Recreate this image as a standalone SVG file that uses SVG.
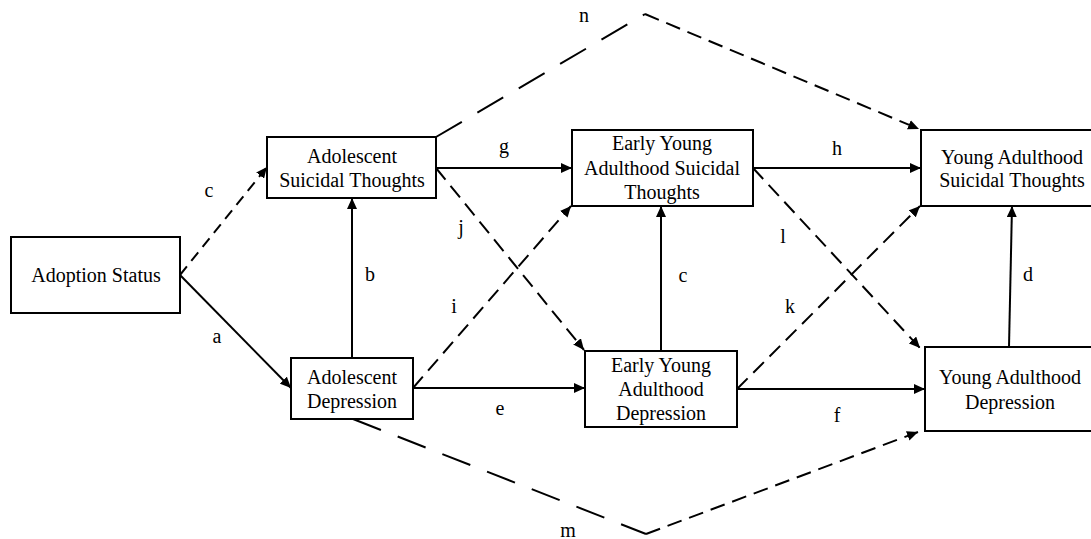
<svg xmlns="http://www.w3.org/2000/svg" width="1091" height="539" viewBox="0 0 1091 539">
<style>
.box{fill:#fff;stroke:#000;stroke-width:2}
text{font-size:20px;fill:#000;text-anchor:middle}
.s{fill:none;stroke:#000;stroke-width:2}
.d1{fill:none;stroke:#000;stroke-width:2;stroke-dasharray:11 7}
.d2{fill:none;stroke:#000;stroke-width:2;stroke-dasharray:15 8}
.d3{fill:none;stroke:#000;stroke-width:2;stroke-dasharray:30 18}
</style>
<defs>
<marker id="ah" viewBox="0 0 11 10" refX="11" refY="5" markerWidth="11" markerHeight="10" markerUnits="userSpaceOnUse" orient="auto">
<path d="M0,0 L11,5 L0,10 z" fill="#000"/>
</marker>
</defs>
<rect width="1091" height="539" fill="#fff"/>
<g font-family="Liberation Serif, DejaVu Serif, serif">
<g id="connectors">
<line class="d1" x1="180" y1="275" x2="267" y2="167" marker-end="url(#ah)"/>
<line class="s" x1="180" y1="275" x2="291" y2="388" marker-end="url(#ah)"/>
<line class="s" x1="352" y1="358" x2="352" y2="198" marker-end="url(#ah)"/>
<line class="s" x1="436" y1="168" x2="572" y2="168" marker-end="url(#ah)"/>
<line class="d2" x1="436" y1="168" x2="584" y2="350" marker-end="url(#ah)"/>
<line class="d2" x1="413" y1="388" x2="571" y2="206" marker-end="url(#ah)"/>
<line class="s" x1="413" y1="388" x2="585" y2="388" marker-end="url(#ah)"/>
<line class="s" x1="661" y1="351" x2="661" y2="206" marker-end="url(#ah)"/>
<line class="s" x1="753" y1="168" x2="921" y2="168" marker-end="url(#ah)"/>
<line class="d2" x1="753" y1="168" x2="920" y2="348" marker-end="url(#ah)"/>
<line class="d2" x1="737" y1="389" x2="920" y2="206" marker-end="url(#ah)"/>
<line class="s" x1="737" y1="389" x2="925" y2="389" marker-end="url(#ah)"/>
<line class="s" x1="1009" y1="347" x2="1012" y2="206" marker-end="url(#ah)"/>
<line class="d3" x1="436" y1="137" x2="645" y2="14"/>
<line class="d2" x1="645" y1="14" x2="919" y2="129" marker-end="url(#ah)"/>
<line class="d3" x1="353" y1="419" x2="646" y2="534"/>
<line class="d2" x1="646" y1="534" x2="918" y2="432" marker-end="url(#ah)"/>
<text x="209" y="197">c</text>
<text x="217" y="343">a</text>
<text x="370" y="281">b</text>
<text x="504" y="153">g</text>
<text x="461" y="234">j</text>
<text x="454" y="313">i</text>
<text x="500" y="415">e</text>
<text x="683" y="282">c</text>
<text x="837" y="155">h</text>
<text x="783" y="243">l</text>
<text x="790" y="313">k</text>
<text x="837" y="422">f</text>
<text x="1028" y="281">d</text>
<text x="584" y="22">n</text>
<text x="568" y="537">m</text>
</g>
<g id="adoption">
<rect class="box" x="11" y="237" width="169" height="76"/>
<text x="96" y="282">Adoption Status</text>
</g>
<g id="adol-st">
<rect class="box" x="267" y="137" width="169" height="61"/>
<text x="352" y="163">Adolescent</text>
<text x="352" y="187">Suicidal Thoughts</text>
</g>
<g id="adol-dep">
<rect class="box" x="291" y="358" width="122" height="61"/>
<text x="352" y="384">Adolescent</text>
<text x="352" y="408">Depression</text>
</g>
<g id="eya-st">
<rect class="box" x="572" y="130" width="181" height="76"/>
<text x="662" y="150">Early Young</text>
<text x="662" y="175">Adulthood Suicidal</text>
<text x="662" y="199">Thoughts</text>
</g>
<g id="eya-dep">
<rect class="box" x="585" y="351" width="152" height="76"/>
<text x="661" y="372">Early Young</text>
<text x="661" y="396">Adulthood</text>
<text x="661" y="420">Depression</text>
</g>
<g id="ya-st">
<rect class="box" x="921" y="130" width="182" height="76"/>
<text x="1012" y="164">Young Adulthood</text>
<text x="1012" y="187">Suicidal Thoughts</text>
</g>
<g id="ya-dep">
<rect class="box" x="925" y="347" width="170" height="84"/>
<text x="1010" y="384">Young Adulthood</text>
<text x="1010" y="409">Depression</text>
</g>
</g>
</svg>
